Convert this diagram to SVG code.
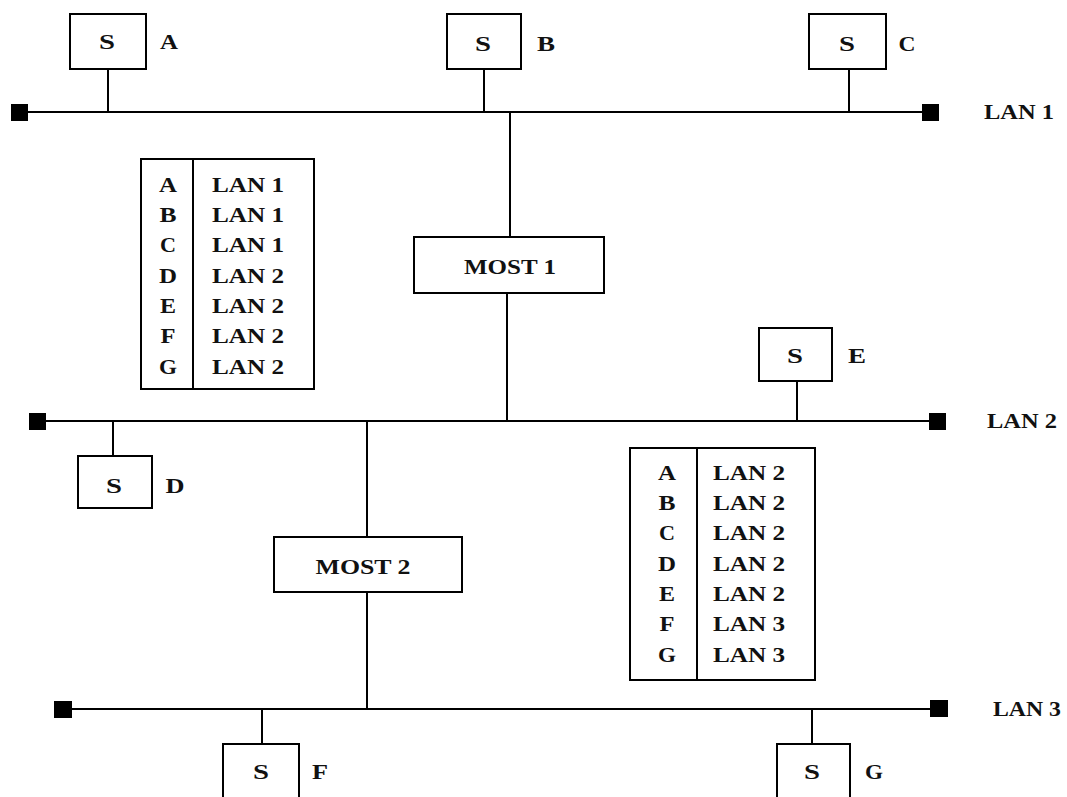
<svg xmlns="http://www.w3.org/2000/svg" width="1067" height="797" viewBox="0 0 1067 797">
<style>
.ln{stroke:#000;stroke-width:2;fill:none}
.bx{stroke:#000;stroke-width:2;fill:#fff}
.term{fill:#000}
text{font-family:"Liberation Serif","Times New Roman",serif;font-weight:bold;font-size:22px;fill:#111;text-anchor:middle}
</style>
<rect width="1067" height="797" fill="#fff"/>
<g id="connectors">
  <line class="ln" x1="20" y1="112" x2="930" y2="112"/>
  <line class="ln" x1="38" y1="421" x2="937" y2="421"/>
  <line class="ln" x1="63" y1="709" x2="938" y2="709"/>
  <line class="ln" x1="108" y1="69" x2="108" y2="112"/>
  <line class="ln" x1="484" y1="69" x2="484" y2="112"/>
  <line class="ln" x1="849" y1="69" x2="849" y2="112"/>
  <line class="ln" x1="510" y1="112" x2="510" y2="237"/>
  <line class="ln" x1="507" y1="293" x2="507" y2="421"/>
  <line class="ln" x1="797" y1="381" x2="797" y2="421"/>
  <line class="ln" x1="113" y1="421" x2="113" y2="456"/>
  <line class="ln" x1="367" y1="421" x2="367" y2="537"/>
  <line class="ln" x1="367" y1="592" x2="367" y2="709"/>
  <line class="ln" x1="262" y1="709" x2="262" y2="744"/>
  <line class="ln" x1="812" y1="709" x2="812" y2="744"/>
</g>
<g id="lan1">
  <rect class="term" x="11" y="104" width="17" height="17"/>
  <rect class="term" x="922" y="104" width="17" height="17"/>
  <text x="1019" y="119" textLength="70" lengthAdjust="spacingAndGlyphs">LAN 1</text>
</g>
<g id="lan2">
  <rect class="term" x="29" y="413" width="17" height="17"/>
  <rect class="term" x="929" y="413" width="17" height="17"/>
  <text x="1022" y="428" textLength="70" lengthAdjust="spacingAndGlyphs">LAN 2</text>
</g>
<g id="lan3">
  <rect class="term" x="54" y="701" width="18" height="17"/>
  <rect class="term" x="930" y="700" width="18" height="17"/>
  <text x="1027" y="716" textLength="68" lengthAdjust="spacingAndGlyphs">LAN 3</text>
</g>
<g id="stationA">
  <rect class="bx" x="70" y="14" width="76" height="55"/>
  <text x="107" y="49" textLength="16" lengthAdjust="spacingAndGlyphs">S</text>
  <text x="169" y="49" textLength="18" lengthAdjust="spacingAndGlyphs">A</text>
</g>
<g id="stationB">
  <rect class="bx" x="447" y="14" width="74" height="55"/>
  <text x="483" y="51" textLength="16" lengthAdjust="spacingAndGlyphs">S</text>
  <text x="546" y="51" textLength="18" lengthAdjust="spacingAndGlyphs">B</text>
</g>
<g id="stationC">
  <rect class="bx" x="809" y="14" width="77" height="55"/>
  <text x="847" y="51" textLength="16" lengthAdjust="spacingAndGlyphs">S</text>
  <text x="907" y="51" textLength="17" lengthAdjust="spacingAndGlyphs">C</text>
</g>
<g id="stationD">
  <rect class="bx" x="78" y="456" width="74" height="52"/>
  <text x="114" y="493" textLength="16" lengthAdjust="spacingAndGlyphs">S</text>
  <text x="175" y="493" textLength="19" lengthAdjust="spacingAndGlyphs">D</text>
</g>
<g id="stationE">
  <rect class="bx" x="759" y="328" width="73" height="53"/>
  <text x="795" y="363" textLength="16" lengthAdjust="spacingAndGlyphs">S</text>
  <text x="857" y="363" textLength="18" lengthAdjust="spacingAndGlyphs">E</text>
</g>
<g id="stationF">
  <rect class="bx" x="223" y="744" width="76" height="60"/>
  <text x="261" y="779" textLength="16" lengthAdjust="spacingAndGlyphs">S</text>
  <text x="320" y="779" textLength="16" lengthAdjust="spacingAndGlyphs">F</text>
</g>
<g id="stationG">
  <rect class="bx" x="777" y="744" width="73" height="60"/>
  <text x="812" y="779" textLength="16" lengthAdjust="spacingAndGlyphs">S</text>
  <text x="874" y="779" textLength="18" lengthAdjust="spacingAndGlyphs">G</text>
</g>
<g id="most1">
  <rect class="bx" x="414" y="237" width="190" height="56"/>
  <text x="510" y="274" textLength="92" lengthAdjust="spacingAndGlyphs">MOST 1</text>
</g>
<g id="most2">
  <rect class="bx" x="274" y="537" width="188" height="55"/>
  <text x="363" y="574" textLength="95" lengthAdjust="spacingAndGlyphs">MOST 2</text>
</g>
<g id="table1">
  <rect class="bx" x="141" y="159" width="173" height="230"/>
  <line class="ln" x1="193" y1="159" x2="193" y2="389"/>
  <text x="168" y="192" textLength="18" lengthAdjust="spacingAndGlyphs">A</text>
  <text x="168" y="222" textLength="17" lengthAdjust="spacingAndGlyphs">B</text>
  <text x="168" y="252" textLength="16" lengthAdjust="spacingAndGlyphs">C</text>
  <text x="168" y="283" textLength="18" lengthAdjust="spacingAndGlyphs">D</text>
  <text x="168" y="313" textLength="16" lengthAdjust="spacingAndGlyphs">E</text>
  <text x="168" y="343" textLength="15" lengthAdjust="spacingAndGlyphs">F</text>
  <text x="168" y="374" textLength="18" lengthAdjust="spacingAndGlyphs">G</text>
  <text x="248" y="192" textLength="72" lengthAdjust="spacingAndGlyphs">LAN 1</text>
  <text x="248" y="222" textLength="72" lengthAdjust="spacingAndGlyphs">LAN 1</text>
  <text x="248" y="252" textLength="72" lengthAdjust="spacingAndGlyphs">LAN 1</text>
  <text x="248" y="283" textLength="72" lengthAdjust="spacingAndGlyphs">LAN 2</text>
  <text x="248" y="313" textLength="72" lengthAdjust="spacingAndGlyphs">LAN 2</text>
  <text x="248" y="343" textLength="72" lengthAdjust="spacingAndGlyphs">LAN 2</text>
  <text x="248" y="374" textLength="72" lengthAdjust="spacingAndGlyphs">LAN 2</text>
</g>
<g id="table2">
  <rect class="bx" x="630" y="448" width="185" height="232"/>
  <line class="ln" x1="697" y1="448" x2="697" y2="680"/>
  <text x="667" y="480" textLength="18" lengthAdjust="spacingAndGlyphs">A</text>
  <text x="667" y="510" textLength="17" lengthAdjust="spacingAndGlyphs">B</text>
  <text x="667" y="540" textLength="16" lengthAdjust="spacingAndGlyphs">C</text>
  <text x="667" y="571" textLength="18" lengthAdjust="spacingAndGlyphs">D</text>
  <text x="667" y="601" textLength="16" lengthAdjust="spacingAndGlyphs">E</text>
  <text x="667" y="631" textLength="15" lengthAdjust="spacingAndGlyphs">F</text>
  <text x="667" y="662" textLength="18" lengthAdjust="spacingAndGlyphs">G</text>
  <text x="749" y="480" textLength="72" lengthAdjust="spacingAndGlyphs">LAN 2</text>
  <text x="749" y="510" textLength="72" lengthAdjust="spacingAndGlyphs">LAN 2</text>
  <text x="749" y="540" textLength="72" lengthAdjust="spacingAndGlyphs">LAN 2</text>
  <text x="749" y="571" textLength="72" lengthAdjust="spacingAndGlyphs">LAN 2</text>
  <text x="749" y="601" textLength="72" lengthAdjust="spacingAndGlyphs">LAN 2</text>
  <text x="749" y="631" textLength="72" lengthAdjust="spacingAndGlyphs">LAN 3</text>
  <text x="749" y="662" textLength="72" lengthAdjust="spacingAndGlyphs">LAN 3</text>
</g>
</svg>
